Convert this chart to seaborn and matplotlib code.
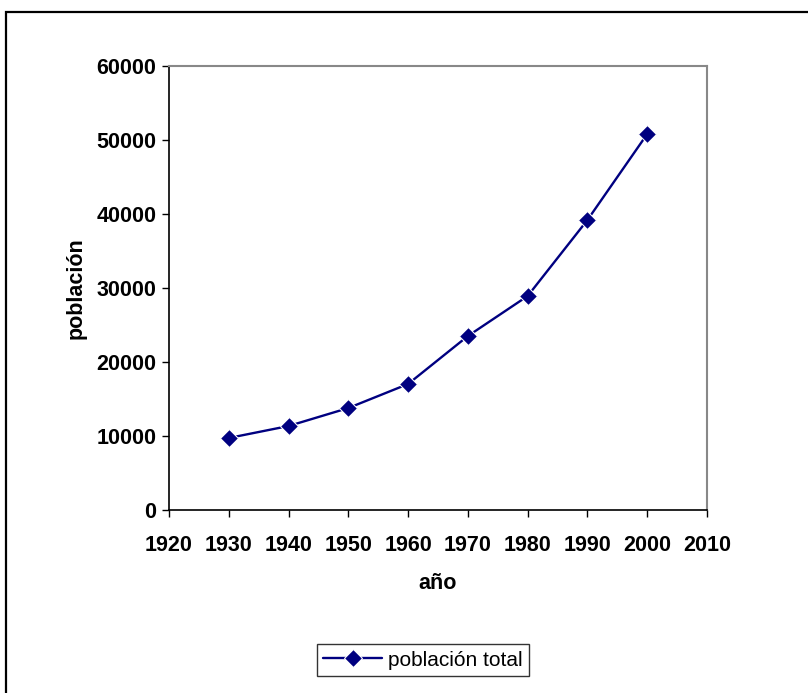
import pandas as pd
import matplotlib.pyplot as plt
import matplotlib.patches as patches
import seaborn as sns

# Datos
anios = [1930, 1940, 1950, 1960, 1970, 1980, 1990, 2000]
poblacion = [9730, 11350, 13780, 17030, 23510, 28920, 39190, 50810]

df = pd.DataFrame({"año": anios, "población": poblacion})

sns.set_style("white")
plt.rcParams['font.family'] = ['Liberation Sans', 'DejaVu Sans']
plt.rcParams['text.color'] = 'black'
plt.rcParams['xtick.color'] = 'black'
plt.rcParams['ytick.color'] = 'black'
plt.rcParams['axes.labelcolor'] = 'black'

fig = plt.figure(figsize=(8.08, 6.93), dpi=100)
ax = fig.add_axes([169 / 808, 1 - 510 / 693, (707 - 169) / 808, (510 - 66) / 693])

sns.lineplot(data=df, x="año", y="población", ax=ax, color="#000080",
             marker="D", markersize=9, linewidth=1.7, label="población total")

ax.set_xlim(1920, 2010)
ax.set_ylim(0, 60000)
ax.set_xticks(range(1920, 2011, 10))
ax.set_yticks(range(0, 60001, 10000))

for s in ["left", "bottom"]:
    ax.spines[s].set_color("black")
    ax.spines[s].set_linewidth(1.2)
for s in ["top", "right"]:
    ax.spines[s].set_color("#888888")
    ax.spines[s].set_linewidth(1.5)

ax.tick_params(axis="both", direction="out", length=5, width=1, color="black",
               labelsize=15.5, bottom=True, left=True)
ax.tick_params(axis="x", pad=13)
ax.tick_params(axis="y", pad=4)
for lbl in ax.get_xticklabels() + ax.get_yticklabels():
    lbl.set_fontweight("bold")

ax.set_xlabel("año", fontsize=15.5, fontweight="bold", labelpad=12)
ax.set_ylabel("población", fontsize=15.5, fontweight="bold", labelpad=7)

leg = ax.legend(loc="center", bbox_to_anchor=(423 / 808, 1 - 660 / 693),
                bbox_transform=fig.transFigure, fontsize=15, frameon=True,
                fancybox=False, edgecolor="black", handlelength=2.8,
                borderpad=0.3, handletextpad=0.3)
leg.get_frame().set_linewidth(1.0)

# marco exterior del grafico
fig.patches.append(patches.Rectangle((6 / 808, -0.1), 1.2, 1 - 12 / 693 + 0.1,
                                     transform=fig.transFigure, fill=False,
                                     edgecolor="black", linewidth=1.6))

fig.savefig("out.png", dpi=100)
